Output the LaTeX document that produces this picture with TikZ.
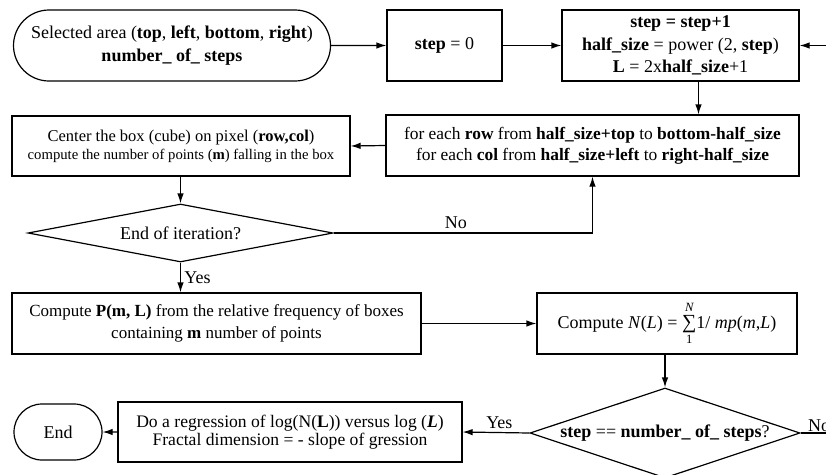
\documentclass[tikz,border=0pt]{standalone}
\usepackage{amsmath}
\usepackage{fontspec}
\setmainfont{Liberation Serif}
\usetikzlibrary{shapes.geometric, shapes.misc, arrows.meta}
\newcommand{\bigsum}{\mathop{\text{\fontsize{20}{20}\selectfont ∑}}\limits}

\begin{document}
\begin{tikzpicture}[x=1pt, y=-1pt, line width=1.2pt,
    font=\fontsize{18}{22.5}\selectfont,
    box/.style={draw, rectangle, align=center, inner sep=2pt},
    term/.style={draw, rounded rectangle, align=center, inner sep=2pt},
    decision/.style={draw, diamond, inner sep=0pt, align=center},
    flow/.style={-{Latex[length=10pt, width=6.5pt]}}]
\clip (0,0) rectangle (826,474);
% top row
\node[term, minimum width=321pt, minimum height=71pt] (start) at (172,45.5) {Selected area (\textbf{top}, \textbf{left}, \textbf{bottom}, \textbf{right})\\ \textbf{number\_ of\_ steps}};
\node[box, minimum width=115pt, minimum height=71pt] (init) at (444.5,45.5) {\textbf{step} = 0};
\node[box, minimum width=237pt, minimum height=71pt] (stepbox) at (680.5,45.5) {\textbf{step = step+1}\\ \textbf{half\_size} = power (2, \textbf{step})\\ \textbf{L} = 2x\textbf{half\_size}+1};
% loop over pixels
\node[box, minimum width=413pt, minimum height=61pt, font=\fontsize{17.4}{21}\selectfont] (foreach) at (592.5,145.5) {for each \textbf{row} from \textbf{half\_size+top} to \textbf{bottom-half\_size}\\ for each \textbf{col} from \textbf{half\_size+left} to \textbf{right-half\_size}};
\node[box, minimum width=338pt, minimum height=60pt, font=\fontsize{16.5}{18}\selectfont] (center) at (181,146) {Center the box (cube) on pixel (\textbf{row,col})\\ {\fontsize{14.7}{18}\selectfont compute the number of points (\textbf{m}) falling in the box}};
\node[decision, minimum width=305pt, minimum height=58pt, aspect=5.2] (iter) at (180.5,233) {End of iteration?};
% probabilities
\node[box, minimum width=409pt, minimum height=61pt, font=\fontsize{17}{22.5}\selectfont] (prob) at (216.5,323.5) {Compute \textbf{P(m, L)} from the relative frequency of boxes\\ containing \textbf{m} number of points};
\node[box, minimum width=260pt, minimum height=61pt] (count) at (667,323.5) {Compute \textit{N}(\textit{L}) = $\bigsum_{\text{1}}^{\textit{N}}$1/ \textit{mp}(\textit{m},\textit{L})};
\node[decision, minimum width=270pt, minimum height=90pt, aspect=3] (check) at (665,433) {\textbf{step} == \textbf{number\_ of\_ steps}?};
% bottom row
\node[box, minimum width=344pt, minimum height=60pt, font=\fontsize{17.6}{18}\selectfont] (regress) at (290,432) {Do a regression of log(N(\textbf{L})) versus log (\textbf{\textit{L}})\\ Fractal dimension = - slope of gression};
\node[term, minimum width=92pt, minimum height=56pt] (end) at (58,432) {End};
% connectors
\draw[flow] (start) -- (init);
\draw[flow] (init) -- (stepbox);
\draw[flow] ([xshift=18pt]stepbox.south) -- ([xshift=18pt]stepbox.south |- foreach.north);
\draw[flow] (foreach.west) -- (center.east);
\draw[flow] (center.south -| iter.north) -- (iter.north);
\draw[flow] (iter.east) -| node[pos=0.236, above] {No} (foreach.south);
\draw[flow] (iter.south) -- node[right] {Yes} (iter.south |- prob.north);
\draw[flow] (prob) -- (count);
\draw[flow] (count.south -| check.north) -- (check.north);
\draw[flow] (check.west) -- node[above, pos=0.45] {Yes} (regress.east);
\draw[flow] (regress) -- (end);
\draw[flow] (check.east) -- node[above right, pos=0.1, inner sep=1pt] {No} ++(60,0) |- (stepbox.east);
\end{tikzpicture}
\end{document}
